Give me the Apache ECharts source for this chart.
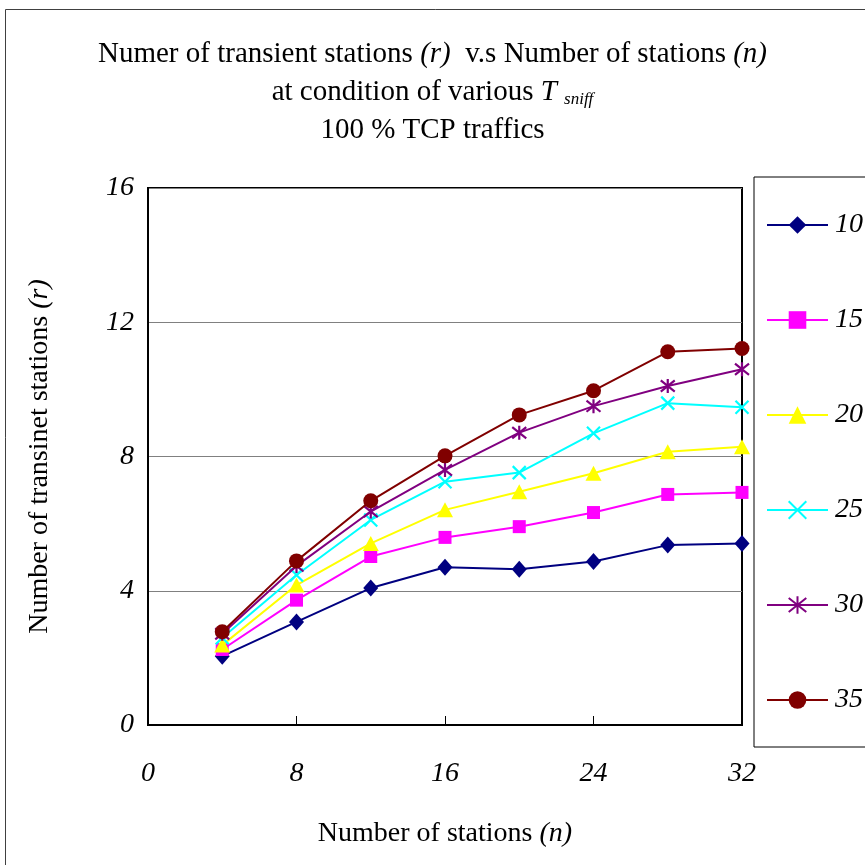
<!DOCTYPE html>
<html><head><meta charset="utf-8">
<script src="https://cdn.jsdelivr.net/npm/echarts@6/dist/echarts.min.js"></script>
<style>html,body{margin:0;padding:0;background:#fff}#c{width:865px;height:865px}</style>
</head><body><div id="c"></div>
<script>
const stations = [4, 8, 12, 16, 20, 24, 28, 32];
const seriesNames = ['10', '15', '20', '25', '30', '35'];
const r10 = [2.05, 3.07, 4.08, 4.70, 4.64, 4.87, 5.36, 5.41];
const r15 = [2.25, 3.72, 5.02, 5.59, 5.91, 6.33, 6.87, 6.93];
const r20 = [2.38, 4.17, 5.41, 6.41, 6.95, 7.50, 8.14, 8.29];
const r25 = [2.60, 4.47, 6.11, 7.25, 7.52, 8.69, 9.59, 9.47];
const r30 = [2.72, 4.74, 6.36, 7.60, 8.71, 9.50, 10.10, 10.60];
const r35 = [2.78, 4.89, 6.68, 8.02, 9.24, 9.96, 11.12, 11.22];
const xTicks = [0, 8, 16, 24, 32];
const yTicks = [0, 4, 8, 12, 16];

const font = 'Liberation Serif';
const styles = [
  {color:'#000080', symbol:'diamond', size:[15,17], stroke:false},
  {color:'#FF00FF', symbol:'rect', size:13, stroke:false},
  {color:'#FFFF00', symbol:'triangle', size:[16,15], stroke:false},
  {color:'#00FFFF', symbol:'path://M0,0L10,10M10,0L0,10', size:13, stroke:true},
  {color:'#800080', symbol:'path://M5,0L5,10M1,1L9,9M9,1L1,9', size:14, stroke:true},
  {color:'#800000', symbol:'circle', size:15, stroke:false}
];
const allData = [r10, r15, r20, r25, r30, r35];

const series = seriesNames.map((nm, i) => {
  const s = styles[i];
  return {
    name: nm,
    type: 'line',
    data: stations.map((n, k) => [n, allData[i][k]]),
    symbol: s.symbol,
    symbolSize: s.size,
    showAllSymbol: true,
    lineStyle: {color: s.color, width: 2},
    itemStyle: s.stroke ? {color: 'rgba(0,0,0,0)', borderColor: s.color, borderWidth: 2.2}
                        : {color: s.color, borderWidth: 0},
    emphasis: {disabled: true},
    z: 3 + i
  };
});

const chart = echarts.init(document.getElementById('c'), null, {renderer: 'canvas'});
chart.setOption({
  animation: false,
  backgroundColor: '#fff',
  textStyle: {fontFamily: font, color: '#000'},
  title: [
    {
      text: 'Numer of transient stations {i|(r)}  v.s Number of stations {i|(n)}',
      left: 'center', top: 35,
      textStyle: {fontFamily: font, fontSize: 29, fontWeight: 'normal', color: '#000',
        rich: {i: {fontFamily: font, fontSize: 29, fontStyle: 'italic'}}}
    },
    {
      text: 'at condition of various {i|T} {sub|sniff}',
      left: 'center', top: 72,
      textStyle: {fontFamily: font, fontSize: 29, fontWeight: 'normal', color: '#000',
        rich: {i: {fontFamily: font, fontSize: 29, fontStyle: 'italic'},
               sub: {fontFamily: font, fontSize: 17, fontStyle: 'italic', padding: [14,0,0,0]}}}
    },
    {
      text: '100 % TCP traffics',
      left: 'center', top: 111,
      textStyle: {fontFamily: font, fontSize: 29, fontWeight: 'normal', color: '#000'}
    }
  ],
  grid: {left: 148, top: 188, width: 594, height: 537, show: true, borderColor: '#000', borderWidth: 2, backgroundColor: '#fff'},
  legend: {
    orient: 'vertical',
    left: 754, top: 177,
    padding: [34, 60, 33, 12],
    itemWidth: 61, itemHeight: 22, itemGap: 67,
    borderColor: '#000', borderWidth: 1,
    backgroundColor: '#fff',
    selectedMode: false,
    textStyle: {fontFamily: font, fontSize: 28, fontStyle: 'italic', color: '#000', padding: [0,0,0,2]},
    data: seriesNames
  },
  xAxis: {
    type: 'value', min: 0, max: 32, interval: 8,
    name: 'Number of stations {i|(n)}', nameLocation: 'middle', nameGap: 95,
    nameTextStyle: {fontFamily: font, fontSize: 28, color: '#000', rich: {i: {fontFamily: font, fontSize: 28, fontStyle: 'italic'}}},
    axisLine: {show: true, lineStyle: {color: '#000', width: 2}},
    axisTick: {show: true, inside: true, length: 9, lineStyle: {color: '#000', width: 1}},
    axisLabel: {fontFamily: font, fontSize: 28, fontStyle: 'italic', color: '#000', margin: 35,
      formatter: v => xTicks.includes(v) ? String(v) : ''},
    splitLine: {show: false}
  },
  yAxis: {
    type: 'value', min: 0, max: 16, interval: 4,
    name: 'Number of transinet stations {i|(r)}', nameLocation: 'middle', nameGap: 94,
    nameTextStyle: {fontFamily: font, fontSize: 28, color: '#000', rich: {i: {fontFamily: font, fontSize: 28, fontStyle: 'italic'}}},
    axisLine: {show: true, lineStyle: {color: '#000', width: 2}},
    axisTick: {show: false},
    axisLabel: {fontFamily: font, fontSize: 28, fontStyle: 'italic', color: '#000', margin: 14,
      formatter: v => yTicks.includes(v) ? String(v) : ''},
    splitLine: {show: true, lineStyle: {color: '#808080', width: 1}}
  },
  graphic: [
    {type: 'rect', shape: {x: 5.5, y: 9.5, width: 900, height: 900}, style: {fill: 'none', stroke: '#404040', lineWidth: 1}, z: -10, silent: true}
  ],
  series: series
});
</script></body></html>
